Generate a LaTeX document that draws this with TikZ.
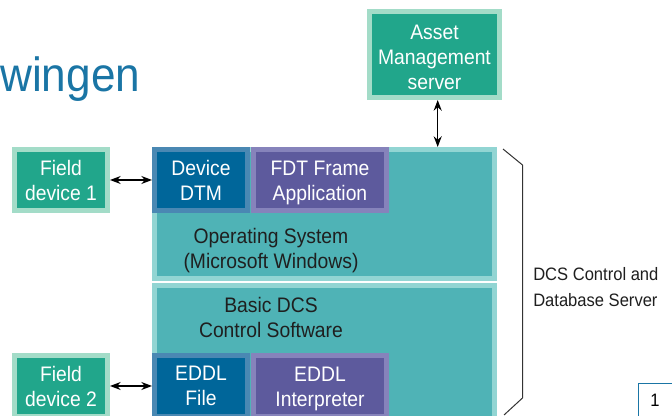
\documentclass[tikz,border=0pt]{standalone}
\usepackage{fontspec}
\setmainfont[FakeStretch=0.92]{Liberation Sans}
\usetikzlibrary{arrows.meta}
\definecolor{grn}{HTML}{21A68B}
\definecolor{grnl}{HTML}{A3DCC8}
\definecolor{tea}{HTML}{4FB3B6}
\definecolor{teal2}{HTML}{92D5D3}
\definecolor{dblue}{HTML}{00669A}
\definecolor{dbluel}{HTML}{4A88B3}
\definecolor{purp}{HTML}{5D5A9D}
\definecolor{purpl}{HTML}{8683BB}
\definecolor{ttl}{HTML}{1A75A5}
\tikzset{
  bev/.style={rectangle, line width=3.75pt, inner sep=0pt, align=center,
    font=\fontsize{15.75pt}{18.75pt}\selectfont},
  grnbox/.style={bev, fill=grn, draw=grnl, text=white},
  teabox/.style={bev, fill=tea, draw=teal2},
  bluebox/.style={bev, fill=dblue, draw=dbluel, text=white},
  purpbox/.style={bev, fill=purp, draw=purpl, text=white},
  lbl/.style={align=center, text=black!88, inner sep=0pt,
    font=\fontsize{15.75pt}{18.75pt}\selectfont},
  wlbl/.style={lbl, text=white},
  conn/.style={{Stealth[length=8pt,width=6pt]}-{Stealth[length=8pt,width=6pt]}, line width=1pt, black},
}
\begin{document}
\begin{tikzpicture}[x=0.75pt,y=-0.75pt]
\useasboundingbox (0,0) rectangle (672,416);
\clip (0,0) rectangle (672,416);
\node[anchor=base west, text=ttl, inner sep=0pt, font=\fontsize{36pt}{40pt}\selectfont] (title) at (0,92) {wingen};
\node[grnbox, minimum width=97.5pt, minimum height=64.5pt] (asset) at (434.5,54.5) {};
\node[wlbl] (assett) at (434.5,57.5) {Asset\\Management\\server};
\node[grnbox, minimum width=69.75pt, minimum height=45.75pt] (fd1) at (61,180) {Field\\device 1};
\node[grnbox, minimum width=69.75pt, minimum height=45.75pt] (fd2) at (61,386) {Field\\device 2};
\node[teabox, minimum width=255pt, minimum height=96.75pt] (upper) at (324.5,214) {};
\node[teabox, minimum width=255pt, minimum height=99.75pt] (lower) at (324.5,352) {};
\node[bluebox, minimum width=69.75pt, minimum height=45.75pt] (dtm) at (201,180) {Device\\DTM};
\node[purpbox, minimum width=99.75pt, minimum height=45.75pt] (fdt) at (320,180) {};
\node[wlbl] (fdtt) at (320,183) {FDT Frame\\Application};
\node[bluebox, minimum width=69.75pt, minimum height=45.75pt] (eddf) at (201,386) {EDDL\\File};
\node[purpbox, minimum width=99.75pt, minimum height=45.75pt] (eddi) at (320,386) {};
\node[wlbl] (eddit) at (320,389) {EDDL\\Interpreter};
\node[lbl] (os) at (271,250.5) {Operating System\\(Microsoft Windows)};
\node[lbl] (dcs) at (271,317) {Basic DCS\\Control Software};
\node[anchor=west, align=left, inner sep=0pt, text=black!88, font=\fontsize{13.5pt}{20pt}\selectfont] (srv) at (533,287) {DCS Control and\\Database Server};
\node[draw=ttl, line width=1pt, fill=white, minimum width=37.5pt, minimum height=37.5pt, anchor=north west, inner sep=0pt] (pg) at (638,383) {};
\node[anchor=base, inner sep=0pt, font=\fontsize{13.5pt}{16pt}\selectfont] (pgn) at (655,407) {1};
\coordinate (ax) at (437.7,0);
\draw[conn] (ax |- asset.south) -- (ax |- upper.north);
\draw[conn] (fd1.east) -- (dtm.west);
\draw[conn] (fd2.east) -- (eddf.west);
\coordinate (b1) at (503,149);
\coordinate (b2) at (522.5,165);
\coordinate (b3) at (522.5,398);
\coordinate (b4) at (504,415);
\draw[line width=0.75pt, black!80] (b1) -- (b2) -- (b3) -- (b4);
\end{tikzpicture}
\end{document}
